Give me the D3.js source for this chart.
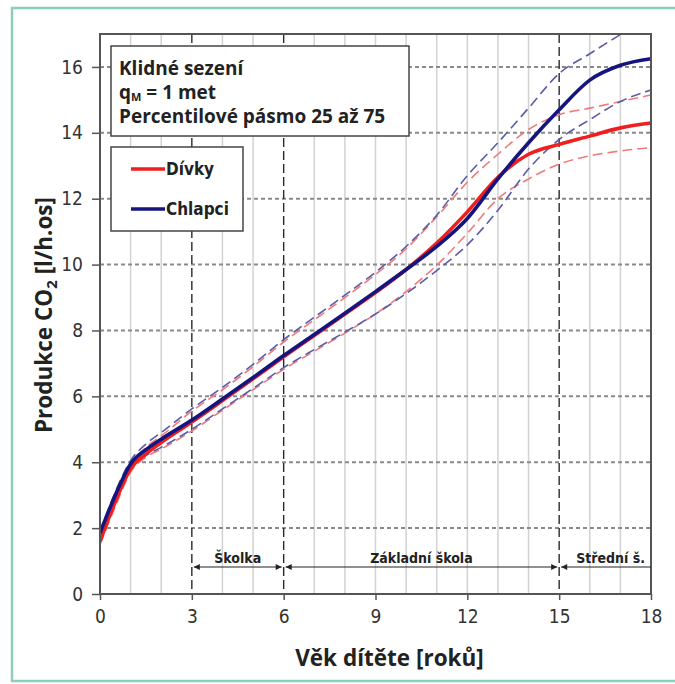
<!DOCTYPE html>
<html>
<head>
<meta charset="utf-8">
<script src="https://cdn.jsdelivr.net/npm/d3@7"></script>
<style>
  body { margin: 0; background: #fff; }
  svg { display: block; }
  .tick-lbl { font-family: "Liberation Sans Narrow", "DejaVu Sans Condensed", sans-serif; font-size: 19px; fill: #333; }
  .box-txt { font-family: "Open Sans", "Noto Sans", sans-serif; font-weight: 700; font-size: 19px; fill: #222; }
  .narrow-b { font-family: "Liberation Sans Narrow", "DejaVu Sans Condensed", sans-serif; font-weight: 700; fill: #222; }
  .axis-title { font-family: "Open Sans", "Noto Sans", sans-serif; font-weight: 700; font-size: 22.5px; fill: #222; }
</style>
</head>
<body>
<div class="chart"></div>
<script>
const width = 675,
      height = 684;

// ages (years)
const ages = [0, 0.5, 1, 1.5, 2, 3, 4, 5, 6, 7, 8, 9, 10, 11, 12, 13, 14, 15, 16, 17, 18];

// CO2 production [l/h.os], median + 25/75 percentiles
const girlsMedian = [1.6, 2.8, 3.8, 4.25, 4.6, 5.22, 5.87, 6.53, 7.2, 7.85, 8.5, 9.15, 9.85, 10.65, 11.6, 12.65, 13.35, 13.65, 13.9, 14.15, 14.3];
const boysMedian  = [1.85, 3.0, 3.95, 4.38, 4.7, 5.28, 5.92, 6.57, 7.24, 7.88, 8.52, 9.18, 9.85, 10.55, 11.4, 12.6, 13.7, 14.7, 15.6, 16.05, 16.25];
const girls75 = [1.75, 2.95, 3.95, 4.45, 4.8, 5.55, 6.2, 6.9, 7.65, 8.32, 9.0, 9.7, 10.48, 11.45, 12.5, 13.35, 14.1, 14.55, 14.75, 14.95, 15.15];
const girls25 = [1.5, 2.65, 3.7, 4.15, 4.4, 4.95, 5.58, 6.2, 6.82, 7.37, 7.92, 8.5, 9.18, 9.98, 10.95, 12.0, 12.6, 13.05, 13.3, 13.45, 13.55];
const boys75  = [1.9, 3.1, 4.05, 4.55, 4.9, 5.62, 6.27, 6.97, 7.72, 8.4, 9.07, 9.77, 10.55, 11.5, 12.7, 13.7, 14.75, 15.8, 16.4, 16.98, 17.5];
const boys25  = [1.7, 2.8, 3.8, 4.2, 4.45, 5.0, 5.62, 6.24, 6.87, 7.42, 7.95, 8.5, 9.12, 9.82, 10.6, 11.65, 12.9, 13.8, 14.4, 14.95, 15.3];

const xTicks = [0, 3, 6, 9, 12, 15, 18];
const yTicks = [0, 2, 4, 6, 8, 10, 12, 14, 16];
const schoolBreaks = [3, 6, 15];
const stages = [
  {from: 3, to: 6, label: "Školka", left: true, right: true},
  {from: 6, to: 15, label: "Základní škola", left: true, right: true},
  {from: 15, to: 18, label: "Střední š.", left: true, right: false}
];
const infoLines = ["Klidné sezení", "q_M = 1 met", "Percentilové pásmo 25 až 75"];
const legendItems = [{name: "Dívky", color: "#f01e1e"}, {name: "Chlapci", color: "#15157f"}];

const svg = d3.select(".chart")
              .append("svg")
              .attr("width", width)
              .attr("height", height);

// outer frame
svg.append("rect")
   .attr("x", 12).attr("y", 8)
   .attr("width", 680).attr("height", 673)
   .attr("fill", "#fff")
   .attr("stroke", "#8ccfb6")
   .attr("stroke-width", 2.5);

const x = d3.scaleLinear().domain([0, 18]).range([100, 651]);
const y = d3.scaleLinear().domain([0, 17]).range([594, 34]);

svg.append("defs").append("clipPath").attr("id", "plotclip")
   .append("rect")
   .attr("x", x(0)).attr("y", y(17))
   .attr("width", x(18) - x(0)).attr("height", y(0) - y(17));

var grid = svg.append("g").classed("grid", true);

// vertical light grid (each year)
grid.selectAll(".vg")
    .data(d3.range(1, 18).filter(d => schoolBreaks.indexOf(d) < 0))
    .enter().append("line")
    .attr("x1", d => x(d)).attr("x2", d => x(d))
    .attr("y1", y(17)).attr("y2", y(0))
    .attr("stroke", "#d2d2d2")
    .attr("stroke-width", 1.5);

// horizontal dotted grid
grid.selectAll(".hg")
    .data(yTicks.filter(d => d > 0))
    .enter().append("line")
    .attr("x1", x(0)).attr("x2", x(18))
    .attr("y1", d => y(d)).attr("y2", d => y(d))
    .attr("stroke", "#8a8a8a")
    .attr("stroke-width", 2)
    .attr("stroke-dasharray", "4,3");

// school stage boundaries
grid.selectAll(".sb")
    .data(schoolBreaks)
    .enter().append("line")
    .attr("x1", d => x(d)).attr("x2", d => x(d))
    .attr("y1", y(17)).attr("y2", y(0))
    .attr("stroke", "#2a2a2a")
    .attr("stroke-width", 1.4)
    .attr("stroke-dasharray", "9,4");

// curves
const line = d3.line()
               .x(d => x(d[0]))
               .y(d => y(d[1]))
               .curve(d3.curveMonotoneX);

const series = [
  {v: girls25, color: "#f07a7a", w: 1.6, dash: "10,5"},
  {v: girls75, color: "#f07a7a", w: 1.6, dash: "10,5"},
  {v: boys25, color: "#5c5ca8", w: 1.6, dash: "10,5"},
  {v: boys75, color: "#5c5ca8", w: 1.6, dash: "10,5"},
  {v: girlsMedian, color: "#f01e1e", w: 3.6, dash: null},
  {v: boysMedian, color: "#15157f", w: 3.6, dash: null}
];

var curves = svg.append("g").attr("clip-path", "url(#plotclip)");
curves.selectAll("path")
      .data(series)
      .enter().append("path")
      .attr("d", s => line(ages.map((a, i) => [a, s.v[i]])))
      .attr("fill", "none")
      .attr("stroke", s => s.color)
      .attr("stroke-width", s => s.w)
      .attr("stroke-dasharray", s => s.dash);

// plot frame
svg.append("rect")
   .attr("x", x(0)).attr("y", y(17))
   .attr("width", x(18) - x(0)).attr("height", y(0) - y(17))
   .attr("fill", "none")
   .attr("stroke", "#555")
   .attr("stroke-width", 2);

// axes
var xa = svg.append("g").attr("transform", "translate(0," + y(0) + ")")
            .call(d3.axisBottom(x).tickValues(xTicks).tickSize(6).tickPadding(6).tickFormat(d3.format("d")));
var ya = svg.append("g").attr("transform", "translate(" + x(0) + ",0)")
            .call(d3.axisLeft(y).tickValues(yTicks).tickSize(8).tickPadding(9).tickFormat(d3.format("d")));
[xa, ya].forEach(a => {
  a.select(".domain").remove();
  a.selectAll(".tick line").attr("stroke", "#555").attr("stroke-width", 1.5);
  a.selectAll(".tick text").attr("class", "tick-lbl").attr("font-size", null).attr("font-family", null).attr("fill", null);
});
xa.selectAll(".tick text").attr("dy", "0.9em");

// stage annotations with arrows
svg.append("defs").append("marker")
   .attr("id", "arr")
   .attr("viewBox", "0 0 10 10")
   .attr("refX", 10).attr("refY", 5)
   .attr("markerWidth", 14).attr("markerHeight", 6)
   .attr("markerUnits", "userSpaceOnUse")
   .attr("orient", "auto-start-reverse")
   .append("path").attr("d", "M0,0L10,5L0,10Z").attr("fill", "#222");

const ay = 567;
var ann = svg.append("g").classed("stages", true);
stages.forEach(s => {
  ann.append("line")
     .attr("x1", x(s.from) + 2).attr("x2", x(s.to) - (s.right ? 2 : 0))
     .attr("y1", ay).attr("y2", ay)
     .attr("stroke", "#222").attr("stroke-width", 1.2)
     .attr("marker-start", s.left ? "url(#arr)" : null)
     .attr("marker-end", s.right ? "url(#arr)" : null);
  ann.append("text")
     .attr("class", "narrow-b")
     .attr("x", s.right ? (x(s.from) + x(s.to)) / 2 : x(s.to) - 6)
     .attr("y", ay - 4)
     .attr("text-anchor", s.right ? "middle" : "end")
     .attr("font-size", 14)
     .text(s.label);
});

// info box
var info = svg.append("g").classed("info", true);
info.append("rect")
    .attr("x", 111).attr("y", 46).attr("width", 298).attr("height", 90)
    .attr("fill", "#fff").attr("stroke", "#444").attr("stroke-width", 1.5);
infoLines.forEach((t, i) => {
  var tx = info.append("text").attr("class", "box-txt").attr("x", 119).attr("y", 75 + i * 24);
  if (t.indexOf("q_M") == 0) {
    tx.append("tspan").text("q");
    tx.append("tspan").attr("font-size", 11).attr("dy", 2).text("M");
    tx.append("tspan").attr("dy", -2).text(" = 1 met");
  } else {
    tx.text(t);
  }
});

// legend
var leg = svg.append("g").classed("legend", true);
leg.append("rect")
   .attr("x", 111).attr("y", 147).attr("width", 132).attr("height", 84)
   .attr("fill", "#fff").attr("stroke", "#444").attr("stroke-width", 1.5);
legendItems.forEach((d, i) => {
  var ly = 169 + i * 40;
  leg.append("line")
     .attr("x1", 131).attr("x2", 165).attr("y1", ly).attr("y2", ly)
     .attr("stroke", d.color).attr("stroke-width", 3.6);
  leg.append("text")
     .attr("class", "narrow-b").attr("font-size", 17)
     .attr("x", 166).attr("y", ly + 6)
     .text(d.name);
});

// axis titles
svg.append("text")
   .attr("class", "axis-title")
   .attr("x", (x(0) + x(18)) / 2 + 14).attr("y", 666)
   .attr("text-anchor", "middle")
   .text("Věk dítěte [roků]");

var yt = svg.append("text")
   .attr("class", "axis-title")
   .attr("transform", "translate(52,315) rotate(-90)")
   .attr("text-anchor", "middle");
yt.append("tspan").text("Produkce CO");
yt.append("tspan").attr("font-size", 15).attr("dy", 5).text("2");
yt.append("tspan").attr("dy", -5).text(" [l/h.os]");
</script>
</body>
</html>
